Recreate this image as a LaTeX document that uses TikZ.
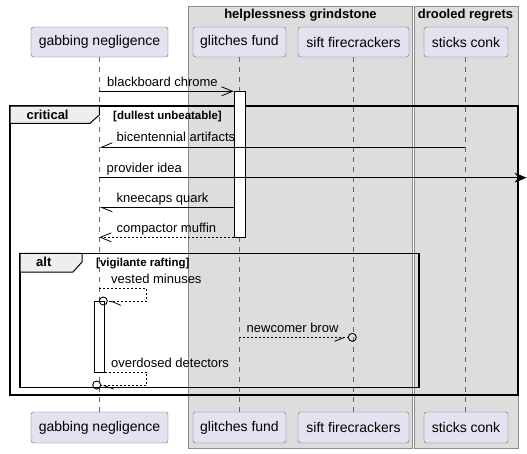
\documentclass[tikz,border=0pt]{standalone}
\usepackage{fontspec}
\setmainfont{Liberation Sans}
\usetikzlibrary{arrows.meta,calc}
\definecolor{partfill}{HTML}{E2E2F0}
\definecolor{grpfill}{HTML}{DDDDDD}
\definecolor{tabfill}{HTML}{EEEEEE}
\begin{document}
\begin{tikzpicture}[x=1pt,y=-1pt,
  part/.style={draw=black!60, fill=partfill, rounded corners=2.5pt, inner sep=0pt,
    font=\fontsize{14}{16}\selectfont},
  grp/.style={draw=black!45, fill=grpfill, line width=0.6pt},
  grptitle/.style={font=\bfseries\fontsize{13}{15}\selectfont, inner sep=0pt, anchor=base},
  life/.style={draw=black!60, line width=0.5pt, dash pattern=on 5pt off 5pt},
  actbox/.style={draw=black, fill=white, line width=0.8pt},
  msgline/.style={draw=black, line width=0.8pt},
  dashmsg/.style={draw=black, line width=0.8pt, dash pattern=on 2pt off 2pt},
  lbl/.style={font=\fontsize{13}{15}\selectfont, anchor=base west, inner sep=0pt},
  guard/.style={font=\bfseries\fontsize{11.5}{13}\selectfont, anchor=base west, inner sep=0pt},
  ftitle/.style={font=\bfseries\fontsize{13}{15}\selectfont, anchor=base west, inner sep=0pt},
  frm/.style={draw=black, line width=1.5pt},
  tabshape/.style={draw=black, fill=tabfill, line width=1pt},
  openhead/.style={-{Straight Barb[length=11pt,width=9pt]}},
  halfhead/.style={-{Straight Barb[harpoon,length=11pt,width=9pt]}},
  halfheadsw/.style={-{Straight Barb[harpoon,swap,length=11pt,width=9pt]}},
  ring/.style={circle, draw=black, line width=0.9pt, fill=none, minimum size=8pt, inner sep=0pt}
]
\useasboundingbox (0,0) rectangle (527,453);
\fill[white] (0,0) rectangle (527,453);

% groups
\draw[grp] (188,6) rectangle (412.3,448);
\draw[grp] (414,6) rectangle (518,448);
\node[grptitle] (g1t) at (300.5,18.5) {helplessness grindstone};
\node[grptitle] (g2t) at (465.5,18.5) {drooled regrets};

% participants
\node[part, minimum width=137pt, minimum height=30pt] (gA) at (99.5,42) {gabbing negligence};
\node[part, minimum width=93pt, minimum height=30pt] (fA) at (239.5,42) {glitches fund};
\node[part, minimum width=111pt, minimum height=30pt] (sA) at (353.5,42) {sift firecrackers};
\node[part, minimum width=84pt, minimum height=30pt] (kA) at (466,42) {sticks conk};
\node[part, minimum width=137pt, minimum height=31pt] (gB) at (99.5,427.5) {gabbing negligence};
\node[part, minimum width=93pt, minimum height=31pt] (fB) at (239.5,427.5) {glitches fund};
\node[part, minimum width=111pt, minimum height=31pt] (sB) at (353.5,427.5) {sift firecrackers};
\node[part, minimum width=84pt, minimum height=31pt] (kB) at (466,427.5) {sticks conk};

% lifelines
\draw[life] (gA.south -| 99.3,0) -- (gB.north -| 99.3,0);
\draw[life] (fA.south -| 239.3,0) -- (fB.north -| 239.3,0);
\draw[life] (sA.south -| 353.7,0) -- (sB.north -| 353.7,0);
\draw[life] (kA.south -| 465.3,0) -- (kB.north -| 465.3,0);

% critical frame
\draw[frm] (10,106) rectangle (518,395);
\draw[tabshape] (10,106) -- (99.3,106) -- (99.3,115) -- (90,123.3) -- (10,123.3) -- cycle;
\node[ftitle] (critT) at (26.5,119.3) {critical};
\node[guard] (critG) at (113,119) {[dullest unbeatable]};

% activation on glitches fund
\node[actbox, minimum width=11pt, minimum height=146.5pt, inner sep=0pt] (actF) at (239.5,164.5) {};

% coordinates
\coordinate (gl1) at (99.3,91.3);
\coordinate (gl2) at (99.3,147.3);
\coordinate (gl3) at (99.3,177.7);
\coordinate (gl4) at (99.3,207.3);
\coordinate (gl5) at (99.3,237.3);
\coordinate (kl2) at (465.3,147.3);
\coordinate (rightend) at (526.5,177.7);

% messages
\draw[msgline, openhead] (gl1) -- (actF.west |- gl1);
\node[lbl] (m1) at (107,86) {blackboard chrome};

\draw[msgline, halfheadsw] (kl2) -- (gl2);
\node[lbl] (m2) at (116.5,141.8) {bicentennial artifacts};

\draw[msgline, -{Stealth[length=12pt,width=10pt]}] (gl3) -- (rightend);
\node[lbl] (m3) at (106.5,172.3) {provider idea};

\draw[msgline, halfhead] (actF.west |- gl4) -- (gl4);
\node[lbl] (m4) at (116.5,202) {kneecaps quark};

\draw[dashmsg, openhead] (actF.west |- gl5) -- (gl5);
\node[lbl] (m5) at (116.5,232) {compactor muffin};

% alt frame
\draw[frm] (20,253.3) rectangle (419,387.7);
\draw[tabshape] (20,253.3) -- (82,253.3) -- (82,262) -- (73,272) -- (20,272) -- cycle;
\node[ftitle] (altT) at (36,266.5) {alt};
\node[guard] (altG) at (96,266) {[vigilante rafting]};

% activation on gabbing
\node[actbox, minimum width=10pt, minimum height=71pt, inner sep=0pt] (actG) at (99.3,337.2) {};

% vested minuses (self, circle end)
\coordinate (v0) at (99.3,288.3);
\coordinate (v1) at (146.7,288.3);
\coordinate (v2) at (146.7,301);
\node[ring] (vc) at (103.3,301) {};
\draw[dashmsg] (v0) -- (v1) -- (v2) -- (vc.east);
\draw[msgline] ($(vc.east)+(3,0)$) -- ++(10,4.3);
\node[lbl] (m6) at (111,283.3) {vested minuses};

% newcomer brow
\coordinate (n0) at (239.3,337.3);
\node[ring] (nc) at (352.3,337.3) {};
\draw[dashmsg] (n0) -- (nc.west);
\draw[msgline] ($(nc.west)+(-3.3,0)$) -- ++(-10,4);
\node[lbl] (m7) at (246.5,332) {newcomer brow};

% overdosed detectors
\coordinate (o0) at (actG.east |- 0,372.3);
\coordinate (o1) at (146.7,372.3);
\coordinate (o2) at (146.7,385.5);
\node[ring] (oc) at (96.7,385) {};
\draw[dashmsg] (o0) -- (o1) -- (o2) -- (oc.east |- o2);
\draw[msgline] ($(oc.east)+(2.5,0.5)$) -- ++(10,3.5);
\node[lbl] (m8) at (111,367.3) {overdosed detectors};
\end{tikzpicture}
\end{document}
